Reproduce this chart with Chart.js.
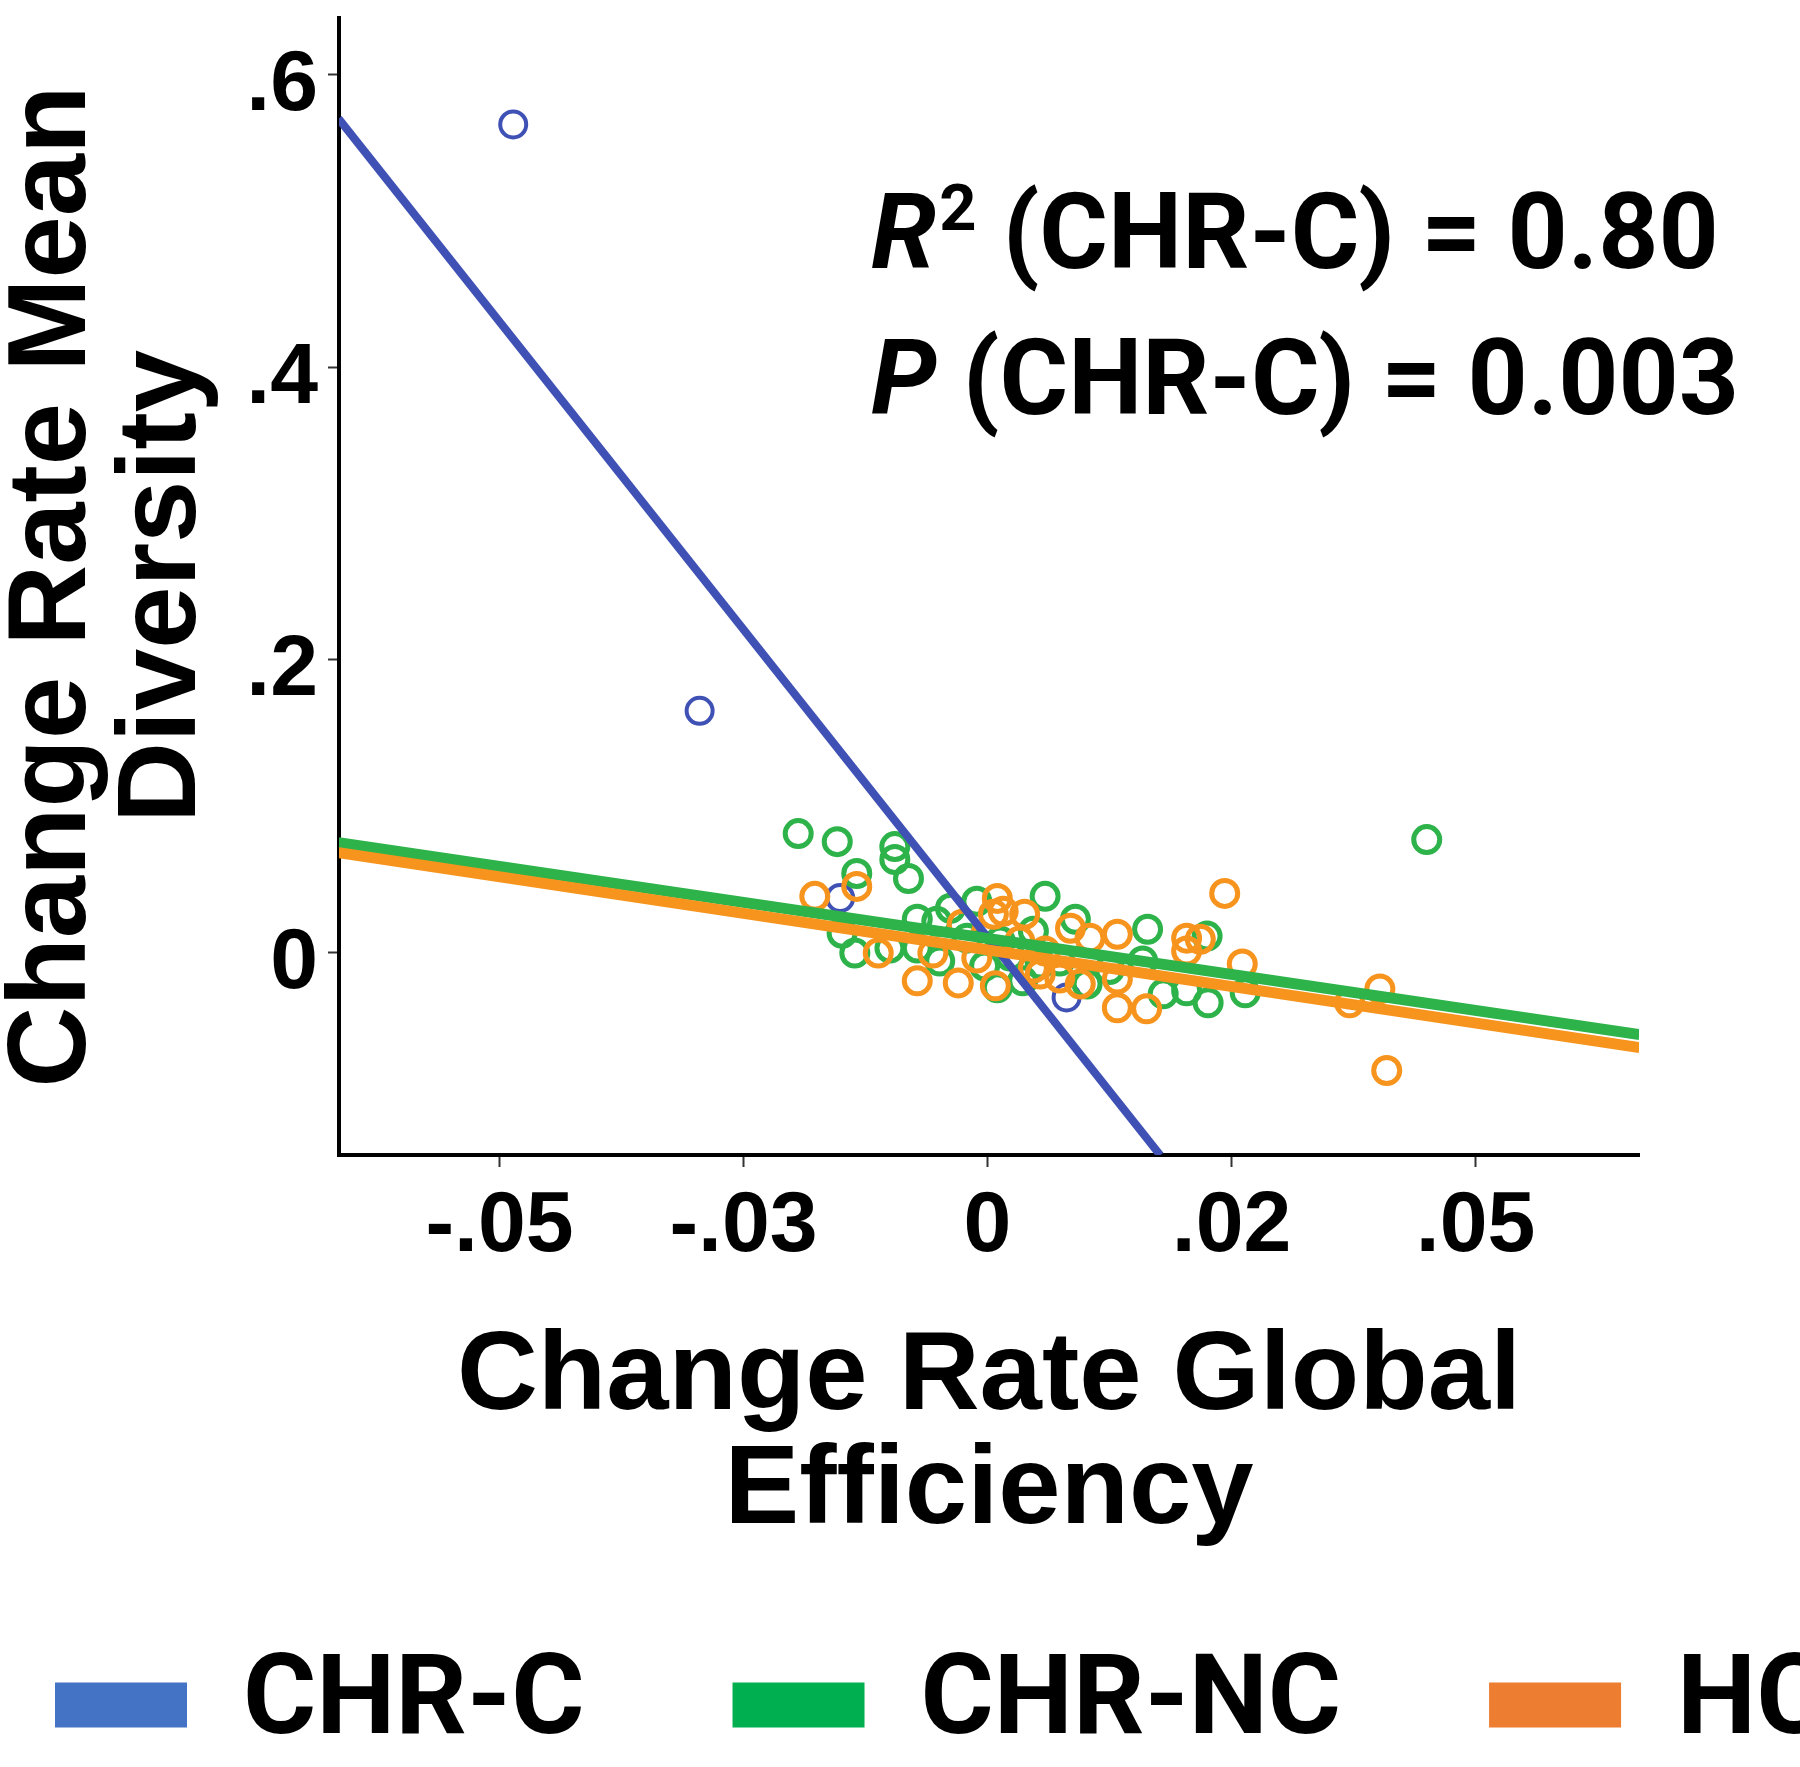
<!DOCTYPE html>
<html>
<head>
<meta charset="utf-8">
<title>Change Rate Mean Diversity vs Global Efficiency</title>
<script src="https://cdn.jsdelivr.net/npm/chart.js@4.4.1/dist/chart.umd.min.js"></script>
<style>
  html, body { margin: 0; padding: 0; overflow: hidden; background: #fff; }
  canvas { display: block; }
</style>
</head>
<body>
<canvas id="canvas" width="2200" height="1767"></canvas>
<script>
// groups and colours
var groups = ['CHR-C', 'CHR-NC', 'HC'];
var legendColors = ['#4472C4', '#00B050', '#ED7D31'];
var markColors = ['#3F51B5', '#2DB34A', '#F7941D'];

// CHR-C (converters)
var chrcX = [-0.0486, -0.0295, -0.0151, 0.0081];
var chrcY = [0.566, 0.165, 0.037, -0.031];

// CHR-NC
var chrncX = [-0.0194, -0.0154, -0.0095, -0.0095, -0.0081, -0.0134, -0.0149, -0.0136, -0.0100, -0.0072,
              -0.0072, -0.0049, -0.0038, -0.0011, -0.0052, -0.0021, 0.0059, 0.0090, 0.0164, 0.0225,
              0.0180, 0.0204, 0.0226, 0.0102, 0.0054, 0.0036, 0.0010, 0.0159, 0.0047, 0.0450,
              0.0264, 0.0013, 0.0023, -0.0003, 0.0074, 0.0125];
var chrncY = [0.0810, 0.0755, 0.0721, 0.0633, 0.0503, 0.0537, 0.0129, -0.0007, 0.0027, 0.0224,
              0.0027, -0.0061, 0.0299, 0.0347, 0.0211, 0.0095, 0.0381, 0.0224, 0.0156, 0.0109,
              -0.0286, -0.0265, -0.0347, -0.0218, -0.0082, -0.0197, -0.0245, -0.0061, 0.0143, 0.0769,
              -0.0279, 0.0075, -0.0027, -0.0095, -0.0061, -0.0120];

// HC
var hcX = [-0.0177, -0.0134, -0.0112, -0.0072, -0.0030, 0.0008, 0.0010, -0.0056, -0.0026, -0.0011,
           0.0006, 0.0016, 0.0038, 0.0085, 0.0105, 0.0133, 0.0204, 0.0204, 0.0243, 0.0054,
           0.0074, 0.0095, 0.0133, 0.0133, 0.0163, 0.0047, 0.0261, 0.0218, 0.0371, 0.0402,
           0.0409, 0.0033, 0.0059];
var hcY = [0.0381, 0.0449, -0.0007, -0.0197, -0.0211, -0.0231, 0.0367, -0.0007, 0.0190, -0.0041,
           0.0259, 0.0279, 0.0259, 0.0163, 0.0095, 0.0122, 0.0095, 0.0007, 0.0401, -0.0150,
           -0.0177, -0.0218, -0.0184, -0.0381, -0.0388, -0.0109, -0.0082, 0.0088, -0.0347, -0.0252,
           -0.0810, 0.0075, 0.0007];

// fitted lines, end points
var fitChrcX = [-0.0665, 0.0177];
var fitChrcY = [0.570, -0.139];
var fitChrncX = [-0.0665, 0.0668];
var fitChrncY = [0.0748, -0.0565];
var fitHcX = [-0.0665, 0.0668];
var fitHcY = [0.068, -0.0654];

// axes
var xTicks = [-0.05, -0.025, 0, 0.025, 0.05];
var xTickLabels = ['-.05', '-.03', '0', '.02', '.05'];
var yTicks = [0, 0.2, 0.4, 0.6];
var yTickLabels = ['0', '.2', '.4', '.6'];

var statsLines = [
  [{t: 'R', s: 'italic'}, {t: '2', s: 'sup'}, {t: ' (CHR-C) = 0.80', s: 'plain'}],
  [{t: 'P', s: 'italic'}, {t: ' (CHR-C) = 0.003', s: 'plain'}]
];

var SANS = "'Liberation Sans', Arial, sans-serif";
var LABEL = "Roboto, 'Liberation Sans', sans-serif";

var CANVAS_W = 2200, CANVAS_H = 1767;
var PLOT_LEFT = 339, PLOT_RIGHT = 1639, PLOT_BOTTOM = 1155;
var LEGEND_PAD = 148;
var PAD_LEFT = 55 - LEGEND_PAD, PAD_BOTTOM = -4;

function pts(xs, ys) {
  return xs.map(function (x, i) { return {x: x, y: ys[i]}; });
}

function pointSet(label, xs, ys, color, bw, order) {
  return {
    label: label,
    data: pts(xs, ys),
    showLine: false,
    pointStyle: 'circle',
    pointRadius: 13,
    pointBorderWidth: bw,
    borderColor: color,
    pointBorderColor: color,
    backgroundColor: 'rgba(0,0,0,0)',
    pointBackgroundColor: 'rgba(0,0,0,0)',
    order: order
  };
}

function fitSet(label, xs, ys, color, width, order) {
  return {
    label: label,
    data: pts(xs, ys),
    showLine: true,
    borderColor: color,
    borderWidth: width,
    pointRadius: 0,
    clip: 0,
    order: order
  };
}

// R2 / P text, sized so that the first line spans ~847px like the original
var statsText = {
  id: 'statsText',
  afterDraw: function (chart) {
    var ctx = chart.ctx, a = chart.chartArea;
    ctx.save();
    function lineWidth(line, size) {
      var w = 0;
      line.forEach(function (p) {
        if (p.s === 'italic') ctx.font = 'italic bold ' + size + 'px ' + LABEL;
        else if (p.s === 'sup') { ctx.font = 'bold ' + Math.round(size * 0.62) + 'px ' + LABEL; w += 3; }
        else ctx.font = 'bold ' + size + 'px ' + LABEL;
        w += ctx.measureText(p.t).width;
      });
      return w;
    }
    var size = Math.round(100 * 847 / lineWidth(statsLines[0], 100));
    ctx.fillStyle = '#000';
    ctx.textAlign = 'left';
    ctx.textBaseline = 'alphabetic';
    statsLines.forEach(function (line, li) {
      var x = a.left + 532;
      var y = a.top + 250 + li * 146;
      line.forEach(function (p) {
        var dy = 0;
        if (p.s === 'italic') ctx.font = 'italic bold ' + size + 'px ' + LABEL;
        else if (p.s === 'sup') { ctx.font = 'bold ' + Math.round(size * 0.62) + 'px ' + LABEL; dy = -size * 0.36; x += 3; }
        else ctx.font = 'bold ' + size + 'px ' + LABEL;
        ctx.fillText(p.t, x, y + dy);
        x += ctx.measureText(p.t).width;
      });
    });
    ctx.restore();
  }
};

var config = {
  type: 'scatter',
  data: {
    datasets: [
      pointSet('CHR-C', chrcX, chrcY, markColors[0], 4, 5),
      pointSet('CHR-NC', chrncX, chrncY, markColors[1], 5, 4),
      pointSet('HC', hcX, hcY, markColors[2], 5, 3),
      fitSet('CHR-C fit', fitChrcX, fitChrcY, markColors[0], 8, 2),
      fitSet('CHR-NC fit', fitChrncX, fitChrncY, markColors[1], 11, 1),
      fitSet('HC fit', fitHcX, fitHcY, markColors[2], 11, 0)
    ]
  },
  options: {
    responsive: false,
    animation: false,
    devicePixelRatio: 1,
    events: [],
    layout: { padding: { left: PAD_LEFT, top: 12, right: 0, bottom: PAD_BOTTOM } },
    plugins: {
      tooltip: { enabled: false },
      legend: {
        position: 'bottom',
        align: 'start',
        labels: {
          boxWidth: 132,
          boxHeight: 45,
          padding: LEGEND_PAD,
          color: '#000',
          font: { family: LABEL, size: 112, weight: 'bold' },
          generateLabels: function () {
            return groups.map(function (g, i) {
              return { text: g, fillStyle: legendColors[i], strokeStyle: legendColors[i],
                       lineWidth: 0, hidden: false, datasetIndex: i };
            });
          }
        }
      }
    },
    scales: {
      x: {
        type: 'linear',
        position: 'bottom',
        min: -0.06645,
        max: 0.06675,
        afterBuildTicks: function (s) { s.ticks = xTicks.map(function (v) { return {value: v}; }); },
        afterFit: function (s) {
          var lh = s.chart.legend ? s.chart.legend.height : 270;
          s.height = CANVAS_H - PAD_BOTTOM - lh - PLOT_BOTTOM;
          s.paddingLeft = 0; s.paddingRight = 0;
        },
        ticks: {
          autoSkip: false, maxRotation: 0, padding: 9, color: '#000',
          font: { family: SANS, size: 86, weight: 'bold' },
          callback: function (v, i) { return xTickLabels[i]; }
        },
        grid: { drawOnChartArea: false, tickLength: 12, tickWidth: 2, tickColor: '#333' },
        border: { color: '#000', width: 4 },
        title: {
          display: true,
          text: ['Change Rate Global', 'Efficiency'],
          color: '#000',
          font: { family: SANS, size: 112, weight: 'bold', lineHeight: 1.02 },
          padding: { top: 0, bottom: -48 }
        }
      },
      y: {
        type: 'linear',
        position: 'left',
        min: -0.1388,
        max: 0.6388,
        afterBuildTicks: function (s) { s.ticks = yTicks.map(function (v) { return {value: v}; }); },
        afterFit: function (s) {
          s.width = PLOT_LEFT - PAD_LEFT;
          s.paddingTop = 0; s.paddingBottom = 0;
        },
        ticks: {
          padding: 10, labelOffset: 12, color: '#000',
          font: { family: SANS, size: 86, weight: 'bold' },
          callback: function (v, i) { return yTickLabels[i]; }
        },
        grid: { drawOnChartArea: false, tickLength: 11, tickWidth: 2, tickColor: '#333' },
        border: { color: '#000', width: 4 },
        title: {
          display: true,
          text: ['Change Rate Mean', 'Diversity'],
          color: '#000',
          font: { family: SANS, size: 112, weight: 'bold', lineHeight: 0.98 },
          padding: { top: 92, bottom: 0 }
        }
      },
      yr: {
        type: 'linear',
        position: 'right',
        display: true,
        grid: { display: false, drawTicks: false },
        border: { display: false },
        ticks: { display: false },
        afterFit: function (s) {
          s.width = CANVAS_W - PLOT_RIGHT;
          s.paddingTop = 0; s.paddingBottom = 0;
        }
      }
    }
  },
  plugins: [statsText]
};

window.onload = function () {
  window.myScatter = new Chart(document.getElementById('canvas'), config);
};
</script>
</body>
</html>
